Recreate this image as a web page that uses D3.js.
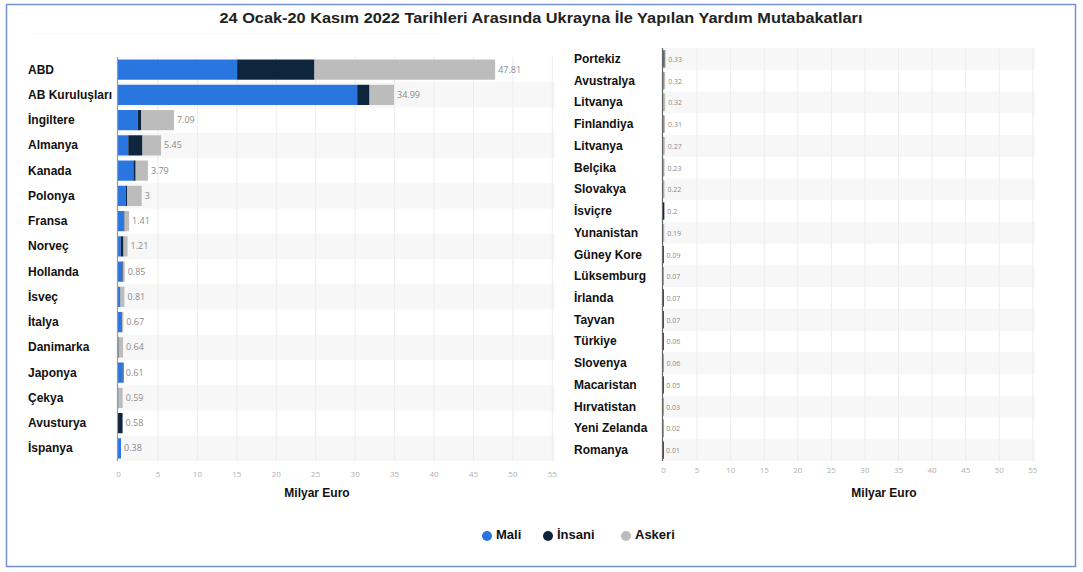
<!DOCTYPE html>
<html><head><meta charset="utf-8">
<script src="https://cdn.jsdelivr.net/npm/d3@7"></script>
<style>
html,body{margin:0;padding:0;background:#fff;}
svg{display:block;font-family:"Liberation Sans",Arial,sans-serif;}
</style></head>
<body>
<svg id="c" width="1083" height="572"></svg>
<script>
// ---- DATA ----
const leftCountries = ["ABD","AB Kuruluşları","İngiltere","Almanya","Kanada","Polonya","Fransa","Norveç","Hollanda","İsveç","İtalya","Danimarka","Japonya","Çekya","Avusturya","İspanya"];
const leftTotals = ["47.81","34.99","7.09","5.45","3.79","3","1.41","1.21","0.85","0.81","0.67","0.64","0.61","0.59","0.58","0.38"];
const leftMali   = [15.1, 30.32, 2.5, 1.3, 1.95, 1.0, 0.75, 0.35, 0.55, 0.2, 0.45, 0.02, 0.6, 0.02, 0, 0.38];
const leftInsani = [9.81, 1.57, 0.46, 1.8, 0.29, 0.18, 0.05, 0.35, 0.05, 0.1, 0.05, 0.02, 0.01, 0, 0.58, 0];
const leftAskeri = [22.9, 3.1, 4.13, 2.35, 1.55, 1.82, 0.61, 0.51, 0.25, 0.51, 0.17, 0.6, 0, 0.57, 0, 0];

const rightCountries = ["Portekiz","Avustralya","Litvanya","Finlandiya","Litvanya","Belçika","Slovakya","İsviçre","Yunanistan","Güney Kore","Lüksemburg","İrlanda","Tayvan","Türkiye","Slovenya","Macaristan","Hırvatistan","Yeni Zelanda","Romanya"];
const rightTotals = ["0.33","0.32","0.32","0.31","0.27","0.23","0.22","0.2","0.19","0.09","0.07","0.07","0.07","0.06","0.06","0.05","0.03","0.02","0.01"];
const rightMali   = [0.2, 0, 0, 0, 0, 0, 0, 0, 0, 0, 0, 0, 0, 0, 0, 0, 0, 0, 0];
const rightInsani = [0.03, 0.05, 0.02, 0.05, 0.02, 0.03, 0.02, 0.2, 0.02, 0.09, 0.02, 0.07, 0.07, 0.06, 0.01, 0.05, 0.01, 0.01, 0.01];
const rightAskeri = [0.1, 0.27, 0.3, 0.26, 0.25, 0.2, 0.2, 0, 0.17, 0, 0.05, 0, 0, 0, 0.05, 0, 0.02, 0.01, 0];

const seriesNames = ["Mali","İnsani","Askeri"];
const xTicks = [0,5,10,15,20,25,30,35,40,45,50,55];
const titleText = "24 Ocak-20 Kasım 2022 Tarihleri Arasında Ukrayna İle Yapılan Yardım Mutabakatları";
const axisTitle = "Milyar Euro";

// ---- STYLE ----
const colors = ["#2a76e0","#0f243d","#bcbcbc"];
const svg = d3.select("#c");

// border
svg.append("rect").attr("x",6.5).attr("y",4.5).attr("width",1069).attr("height",562)
  .attr("fill","none").attr("stroke","#7393d4").attr("stroke-width",1.5);

// title
svg.append("text").attr("x",541).attr("y",23).attr("text-anchor","middle")
  .attr("font-size",15.5).attr("font-weight","bold").attr("fill","#222")
  .attr("textLength",643).attr("lengthAdjust","spacingAndGlyphs").text(titleText);
svg.append("line").attr("x1",33).attr("x2",440).attr("y1",33.5).attr("y2",33.5)
  .attr("stroke","#f6f6f6");

function panel(cfg){
  const {names,totals,mali,insani,askeri,x0,x1,y0,y1,labelX,tickY,titleX,axisColor,stripeOdd,pad} = cfg;
  const x = d3.scaleLinear().domain([0,55.4]).range([x0,x1]);
  const idx = d3.range(names.length);
  const y = d3.scaleBand().domain(idx).range([y0,y1]).paddingInner(0).paddingOuter(0);
  const g = svg.append("g");
  // stripes
  g.selectAll("rect.stripe").data(idx.filter(i => (i%2===1)===stripeOdd)).enter().append("rect")
    .attr("x",x(0)).attr("width",x(55.4)-x(0)).attr("y",i=>y(i)).attr("height",y.bandwidth())
    .attr("fill","#f7f7f7");
  // grid
  g.selectAll("line.grid").data(xTicks.filter(t=>t>0)).enter().append("line")
    .attr("x1",d=>x(d)+0.5).attr("x2",d=>x(d)+0.5).attr("y1",y0).attr("y2",y1)
    .attr("stroke","#ececec");
  // stacked bars
  const rows = idx.map(i => ({i, vals:[mali[i],insani[i],askeri[i]]}));
  const segs = [];
  rows.forEach(r => { let acc=0; r.vals.forEach((v,k)=>{ segs.push({i:r.i,k,start:acc,end:acc+v}); acc+=v; }); r.sum=acc; });
  const bh = y.bandwidth()*(1-pad);
  g.selectAll("rect.bar").data(segs.filter(s=>s.end>s.start)).enter().append("rect")
    .attr("x",s=>x(s.start)).attr("width",s=>Math.max(0.8,x(s.end)-x(s.start)))
    .attr("y",s=>y(s.i)+(y.bandwidth()-bh)/2).attr("height",bh)
    .attr("fill",s=>colors[s.k]);
  // value labels
  g.selectAll("text.val").data(rows).enter().append("text")
    .attr("x",r=>x(r.sum)+3).attr("y",r=>y(r.i)+y.bandwidth()/2+3)
    .attr("font-size",cfg.valSize).attr("fill","#8a8a8a")
    .attr("font-family","'Open Sans',sans-serif").text(r=>totals[r.i]);
  // axis line
  g.append("line").attr("x1",x0-0.5).attr("x2",x0-0.5).attr("y1",y0).attr("y2",y1)
    .attr("stroke",axisColor).attr("stroke-width",1.2);
  // category labels
  g.selectAll("text.cat").data(idx).enter().append("text")
    .attr("x",labelX).attr("y",i=>y(i)+y.bandwidth()/2+4)
    .attr("font-size",12).attr("font-weight","bold").attr("fill","#111").text(i=>names[i]);
  // x axis tick labels
  const ax = d3.axisBottom(x).tickValues(xTicks).tickSize(0).tickPadding(0);
  const axg = g.append("g").attr("transform",`translate(0,${tickY})`).call(ax);
  axg.select(".domain").remove();
  axg.selectAll("text").attr("font-size",8).attr("fill","#b0b0b0")
    .attr("font-family","'Open Sans',sans-serif").attr("dy",0);
  // axis title
  g.append("text").attr("x",titleX).attr("y",497).attr("text-anchor","middle")
    .attr("font-size",12).attr("font-weight","bold").attr("fill","#111").text(axisTitle);
}

panel({names:leftCountries,totals:leftTotals,mali:leftMali,insani:leftInsani,askeri:leftAskeri,
  x0:118,x1:555,y0:57,y1:461,labelX:28,tickY:477,titleX:317,axisColor:"#9a9a9a",stripeOdd:true,pad:0.2,valSize:9});
panel({names:rightCountries,totals:rightTotals,mali:rightMali,insani:rightInsani,askeri:rightAskeri,
  x0:663,x1:1035,y0:48,y1:461,labelX:574,tickY:473,titleX:884,axisColor:"#666",stripeOdd:false,pad:0.2,valSize:7});

// legend
const legX = [487,548,626];
const lg = svg.append("g");
seriesNames.forEach((n,k)=>{
  lg.append("circle").attr("cx",legX[k]).attr("cy",536).attr("r",5).attr("fill",colors[k]);
  lg.append("text").attr("x",legX[k]+9).attr("y",539).attr("font-size",13).attr("font-weight","bold")
    .attr("fill","#111").text(n);
});
</script>
</body></html>
